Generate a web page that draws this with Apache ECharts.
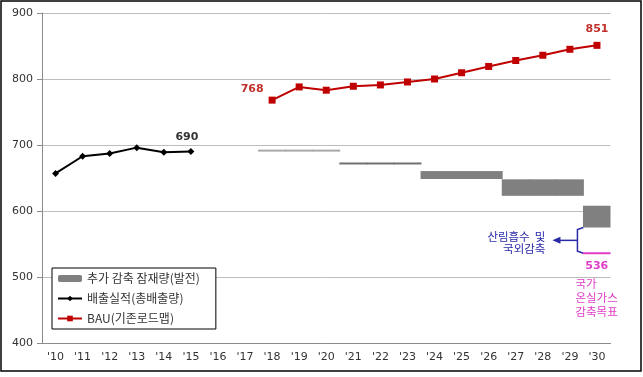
<!DOCTYPE html>
<html>
<head>
<meta charset="utf-8">
<script src="https://cdn.jsdelivr.net/npm/echarts@6/dist/echarts.min.js"></script>
<style>
  html, body { margin: 0; padding: 0; background: #fff; }
  #main { width: 643px; height: 377px; }
</style>
</head>
<body>
<div id="main"></div>
<script>
// 온실가스 배출 전망
var years = ["'10", "'11", "'12", "'13", "'14", "'15", "'16", "'17", "'18", "'19", "'20",
  "'21", "'22", "'23", "'24", "'25", "'26", "'27", "'28", "'29", "'30"];
// 배출실적(총배출량)
var actual = [657, 683, 687, 696, 689, 690, '-', '-', '-', '-', '-',
  '-', '-', '-', '-', '-', '-', '-', '-', '-', '-'];
// BAU(기존로드맵)
var bau = ['-', '-', '-', '-', '-', '-', '-', '-', 768, 788, 783,
  789, 791, 795.5, 800, 809.5, 819, 828, 836, 845, 851];
// 추가 감축 잠재량(발전): 바닥값 + 감축량
var cutLow = ['-', '-', '-', '-', '-', '-', '-', '-', 690, 690, 690,
  670.5, 670.5, 670.5, 648.5, 648.5, 648.5, 623, 623, 623, 575];
var cutAmount = ['-', '-', '-', '-', '-', '-', '-', '-', 3, 3, 3,
  3, 3, 3, 12, 12, 12, 25, 25, 25, 33];
// 국가 온실가스 감축목표
var target = ['-', '-', '-', '-', '-', '-', '-', '-', '-', '-', '-',
  '-', '-', '-', '-', '-', '-', '-', '-', '-', 536];

var numFont = 'DejaVu Sans';
var krFont = 'Noto Sans CJK KR';
var magenta = '#e03cc8';
var blue = '#2a2aa8';

var chart = echarts.init(document.getElementById('main'));

// 마지막 점만 라벨 표시
function lastLabel(arr, opt) {
  return arr.map(function (v, i) {
    if (v === '-') return v;
    var last = true;
    for (var j = i + 1; j < arr.length; j++) if (arr[j] !== '-') last = false;
    return last ? { value: v, label: opt } : v;
  });
}

var bauData = lastLabel(bau, { show: true, position: 'top', distance: 7 });
bauData[8] = { value: bau[8], label: { show: true, position: 'left', distance: 5, offset: [0, -11] } };

// 감축 막대: 앞의 두 구간은 얇은 선
var cutData = cutAmount.map(function (v, i) {
  if (v === '-') return v;
  var c = i < 11 ? '#a8a8a8' : (i < 14 ? '#707070' : '#808080');
  return { value: v, itemStyle: { color: c } };
});

var option = {
  animation: false,
  grid: { left: 42, right: 32.5, top: 13, bottom: 34 },
  legend: {
    orient: 'vertical',
    left: 52,
    top: 268,
    data: ['추가 감축 잠재량(발전)', '배출실적(총배출량)', 'BAU(기존로드맵)'],
    backgroundColor: '#fff',
    borderColor: '#000',
    borderWidth: 1,
    borderRadius: 0,
    padding: [3, 16, 3, 5],
    itemGap: 5,
    itemWidth: 24,
    itemHeight: 7,
    textStyle: { fontFamily: krFont, fontSize: 12, lineHeight: 15, color: '#333' }
  },
  xAxis: {
    type: 'category',
    data: years,
    boundaryGap: true,
    axisLine: { lineStyle: { color: '#8c8c8c' } },
    axisTick: { length: 4, lineStyle: { color: '#8c8c8c' } },
    axisLabel: { fontFamily: numFont, fontSize: 11, color: '#333', margin: 9 }
  },
  yAxis: {
    type: 'value',
    min: 400,
    max: 900,
    interval: 100,
    axisLine: { show: true, lineStyle: { color: '#8c8c8c' } },
    axisTick: { show: true, length: 5, lineStyle: { color: '#8c8c8c' } },
    axisLabel: { fontFamily: numFont, fontSize: 11, color: '#333', margin: 9 },
    splitLine: { lineStyle: { color: '#bdbdbd' } }
  },
  series: [
    {
      name: 'base', type: 'bar', stack: 'cut', data: cutLow,
      barWidth: 28, barGap: '-100%', silent: true,
      itemStyle: { color: 'transparent' }
    },
    {
      name: '추가 감축 잠재량(발전)', type: 'bar', stack: 'cut', data: cutData,
      barWidth: 28, barGap: '-100%',
      itemStyle: { color: '#808080' }
    },
    {
      name: 'tbase', type: 'bar', stack: 'tgt',
      data: target.map(function (v) { return v === '-' ? v : v - 1.5; }),
      barWidth: 28, barGap: '-100%', silent: true,
      itemStyle: { color: 'transparent' }
    },
    {
      name: 'target', type: 'bar', stack: 'tgt',
      data: target.map(function (v) { return v === '-' ? v : 3; }),
      barWidth: 28, barGap: '-100%',
      itemStyle: { color: magenta },
      label: {
        show: true, position: 'bottom', distance: 6,
        formatter: function (p) { return target[p.dataIndex]; },
        fontFamily: numFont, fontSize: 11, fontWeight: 'bold', color: magenta
      }
    },
    {
      name: '배출실적(총배출량)', type: 'line',
      data: lastLabel(actual, { show: true, position: 'top', distance: 5, offset: [-4, 0] }),
      symbol: 'diamond', symbolSize: 7, showAllSymbol: true,
      lineStyle: { color: '#000', width: 2 },
      itemStyle: { color: '#000' },
      label: { fontFamily: numFont, fontSize: 11, fontWeight: 'bold', color: '#333' }
    },
    {
      name: 'BAU(기존로드맵)', type: 'line', data: bauData,
      symbol: 'rect', symbolSize: 7, showAllSymbol: true,
      lineStyle: { color: '#c00000', width: 2 },
      itemStyle: { color: '#c00000' },
      label: { fontFamily: numFont, fontSize: 11, fontWeight: 'bold', color: '#c0302a' }
    }
  ]
};

chart.setOption(option);

// 주석: 괄호, 화살표, 텍스트
var last = years.length - 1;
var xc = chart.convertToPixel({ xAxisIndex: 0 }, years[last]);
var band = xc - chart.convertToPixel({ xAxisIndex: 0 }, years[last - 1]);
var xLeft = xc - band / 2;
var yTop = chart.convertToPixel({ yAxisIndex: 0 }, cutLow[last]);
var yBot = chart.convertToPixel({ yAxisIndex: 0 }, target[last]);
var yMid = (yTop + yBot) / 2;
var bx = xLeft - 6;

function textLines(lines, x, y0, step, size, align, color) {
  return lines.map(function (t, k) {
    return {
      type: 'text', silent: true,
      x: x, y: y0 + k * step,
      style: {
        text: t, align: align, verticalAlign: 'middle',
        fontFamily: krFont, fontSize: size, fill: color
      }
    };
  });
}

chart.setOption({
  graphic: [
    {
      type: 'rect', silent: true,
      shape: { x: 1, y: 1, width: 640, height: 370 },
      style: { fill: 'none', stroke: '#000', lineWidth: 1.5 }
    },
    {
      type: 'polyline', silent: true,
      shape: { points: [[xLeft, yTop], [bx, yTop + 2], [bx, yBot - 2], [xLeft, yBot]] },
      style: { stroke: blue, lineWidth: 1.5, fill: 'none' }
    },
    {
      type: 'line', silent: true,
      shape: { x1: bx, y1: yMid, x2: bx - 18, y2: yMid },
      style: { stroke: blue, lineWidth: 1.5 }
    },
    {
      type: 'polygon', silent: true,
      shape: { points: [[bx - 25, yMid], [bx - 17, yMid - 3.5], [bx - 17, yMid + 3.5]] },
      style: { fill: blue }
    }
  ].concat(
    textLines(['산림흡수  및', '국외감축'], bx - 32, yMid - 4, 12.5, 11.5, 'right', blue),
    textLines(['국가', '온실가스', '감축목표'], xLeft - 8, yBot + 30, 14, 11.5, 'left', magenta)
  )
});
</script>
</body>
</html>
